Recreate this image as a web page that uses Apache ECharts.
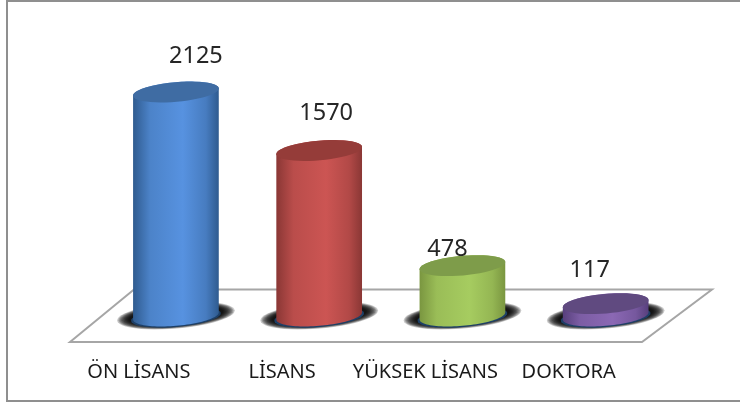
<!DOCTYPE html>
<html><head><meta charset="utf-8">
<style>html,body{margin:0;padding:0;background:#fff}#c{width:740px;height:406px}</style>
<script src="https://cdn.jsdelivr.net/npm/echarts@6/dist/echarts.min.js"></script>
</head><body><div id="c"></div>
<script>
var categories = ['ÖN LİSANS', 'LİSANS', 'YÜKSEK LİSANS', 'DOKTORA'];
var values = [2125, 1570, 478, 117];
var bodyEdge = ['#2f5b8f', '#8a3735', '#7a9640', '#573f7c'];
var bodyMid = ['#5792e0', '#cc5553', '#a6cc60', '#8b68b4'];
var capColor = ['#3f6ca3', '#953c39', '#7e9c4a', '#604a80'];
var labelDx = [20, 7, -15, -16];
var labelDy = [-37, -38, -17, -34];

var A = 43, B = 9.8, PHI = -5 * Math.PI / 180;
function pt(cx, cy, t, a, b) {
  return [cx + a * Math.cos(t) * Math.cos(PHI) - b * Math.sin(t) * Math.sin(PHI),
          cy + a * Math.cos(t) * Math.sin(PHI) + b * Math.sin(t) * Math.cos(PHI)];
}
var T0 = Math.atan(-(B / A) * Math.tan(PHI));
function arc(cx, cy, from, to, a, b) {
  var out = [];
  for (var i = 0; i <= 48; i++) out.push(pt(cx, cy, from + (to - from) * i / 48, a, b));
  return out;
}
function renderItem(params, api) {
  var i = params.dataIndex;
  var top = api.coord([i, api.value(1)]);
  var base = api.coord([i, 0]);
  var cx = top[0] + 0.5;
  var body = arc(cx, top[1], T0 + Math.PI, T0 + 2 * Math.PI, A, B)
    .concat(arc(cx, base[1], T0, T0 + Math.PI, A, B));
  var grad = new echarts.graphic.LinearGradient(0, 0, 1, 0, [
    {offset: 0, color: bodyEdge[i]},
    {offset: 0.2, color: echarts.color.lerp(0.72, [bodyEdge[i], bodyMid[i]])},
    {offset: 0.58, color: bodyMid[i]},
    {offset: 0.85, color: echarts.color.lerp(0.6, [bodyEdge[i], bodyMid[i]])},
    {offset: 1, color: bodyEdge[i]}
  ]);
  var children = [];
  for (var k = 0; k < 10; k++) {
    children.push({type: 'polygon', z2: 1, shape: {points: arc(cx, base[1] - 0.5, 0, 2 * Math.PI, 59 - k * 1.3, 13 - k * 0.45)},
      style: {fill: 'rgba(0,0,0,0.22)'}});
  }
  children.push(
    {type: 'polygon', z2: 2, shape: {points: arc(cx, base[1] + 1, 0, 2 * Math.PI, 45, 10)},
      style: {fill: '#1d3f66'}},
    {type: 'polygon', z2: 3, shape: {points: body}, style: {fill: grad}},
    {type: 'polygon', z2: 4, shape: {points: arc(cx, top[1], 0, 2 * Math.PI, A, B)},
      style: {fill: capColor[i]}},
    {type: 'text', z2: 5, style: {text: String(api.value(1)), x: cx + labelDx[i], y: top[1] + labelDy[i] + 1,
      align: 'center', verticalAlign: 'middle', fill: '#262626',
      font: '23.5px "Noto Sans"'}}
  );
  return {type: 'group', children: children};
}
var chart = echarts.init(document.getElementById('c'), null, {renderer: 'canvas'});
chart.setOption({
  animation: false,
  backgroundColor: '#ffffff',
  grid: {left: 103.8, width: 573, top: 52.5, height: 263.5},
  xAxis: {type: 'category', data: categories,
    axisLine: {show: false}, axisTick: {show: false},
    axisLabel: {interval: 0, margin: 46, color: '#1a1a1a', fontFamily: 'Noto Sans', fontSize: 20, padding: [0, 73, 0, 0]}},
  yAxis: {type: 'value', min: 0, max: 2500, show: false},
  graphic: [
    {type: 'rect', z: 0, shape: {x: 7, y: 1, width: 745, height: 400}, style: {fill: '#fff', stroke: '#8f8f8f', lineWidth: 2}},
    {type: 'polygon', z: 1, shape: {points: [[70, 342], [134, 289.5], [712, 289.5], [642, 342]]},
      style: {fill: '#fff', stroke: '#a6a6a6', lineWidth: 2}}
  ],
  series: [{type: 'custom', renderItem: renderItem, clip: false, data: values.map(function (v, i) { return [i, v]; }), encode: {x: 0, y: 1}}]
});
</script></body></html>
